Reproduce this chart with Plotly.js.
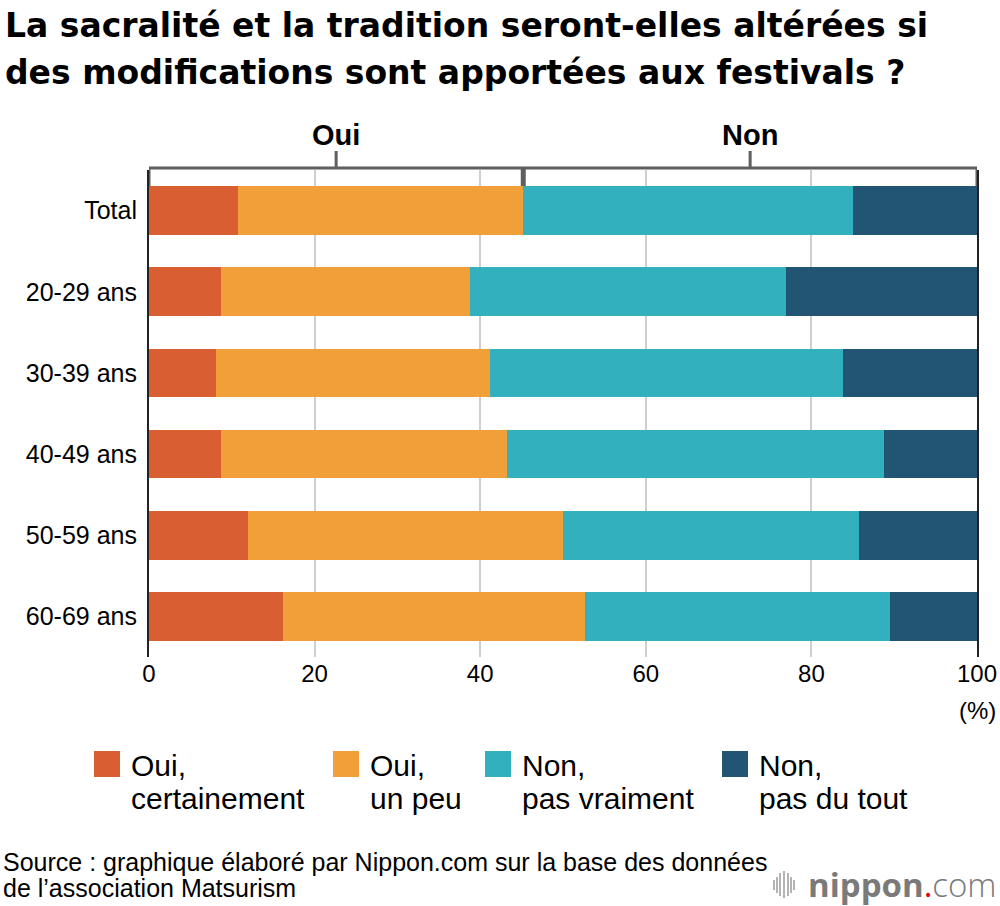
<!DOCTYPE html>
<html>
<head>
<meta charset="utf-8">
<script src="https://cdn.plot.ly/plotly-3.0.1.min.js"></script>
<style>
  html, body { margin: 0; padding: 0; background: #fff; }
  #chart { width: 1000px; height: 906px; }
</style>
</head>
<body>
<div id="chart"></div>
<script>
// ---- Data ----
const categories = ['Total', '20-29 ans', '30-39 ans', '40-49 ans', '50-59 ans', '60-69 ans'];
const ouiCertainement = [10.8, 8.7, 8.1, 8.7, 11.9, 16.2];
const ouiUnPeu        = [34.4, 30.1, 33.1, 34.5, 38.1, 36.4];
const nonPasVraiment  = [39.8, 38.1, 42.6, 45.6, 35.7, 36.9];
const nonPasDuTout    = [15.0, 23.1, 16.2, 11.2, 14.3, 10.5];
const seriesNames = ['Oui,<br>certainement', 'Oui,<br>un peu', 'Non,<br>pas vraiment', 'Non,<br>pas du tout'];
const legendLine1 = ['Oui,', 'Oui,', 'Non,', 'Non,'];
const legendLine2 = ['certainement', 'un peu', 'pas vraiment', 'pas du tout'];
const groupLabels = ['Oui', 'Non'];
const xTicks = [0, 20, 40, 60, 80, 100];

// ---- Styles ----
const colors = ['#D95F32', '#F19F38', '#33B0BE', '#225473'];
const FONT = '"Liberation Sans", Arial, Helvetica, sans-serif';
const TITLE_FONT = '"DejaVu Sans", "Liberation Sans", Arial, sans-serif';
const seriesValues = [ouiCertainement, ouiUnPeu, nonPasVraiment, nonPasDuTout];

const traces = seriesValues.map((vals, i) => ({
  type: 'bar',
  orientation: 'h',
  name: seriesNames[i],
  y: categories,
  x: vals,
  marker: { color: colors[i], line: { width: 0 } },
  showlegend: false,
  hoverinfo: 'x+y+name'
}));

// plot area in pixels: left 149, right 977, top 170, bottom 657
const plotTop = 170, plotBottom = 657, plotH = plotBottom - plotTop;
const plotLeft = 149, plotW = 828;
const py = (p) => (plotBottom - p) / plotH;   // pixel y -> paper y
const px = (p) => (p - plotLeft) / plotW;     // pixel x -> paper x

// Bracket from the Total row
const ouiTotal = ouiCertainement[0] + ouiUnPeu[0];
const bracketColor = '#5f5f5f';
const shapes = [];
const yLine = py(168), yEnd = py(186), yTick = py(151);
shapes.push({ type: 'line', xref: 'x', yref: 'paper', x0: 0, x1: 100, y0: yLine, y1: yLine, line: { color: bracketColor, width: 3 } });
shapes.push({ type: 'line', xref: 'x', yref: 'paper', x0: 0, x1: 0, y0: yLine, y1: yEnd, line: { color: bracketColor, width: 3 } });
shapes.push({ type: 'line', xref: 'x', yref: 'paper', x0: 100, x1: 100, y0: yLine, y1: yEnd, line: { color: bracketColor, width: 3 } });
shapes.push({ type: 'line', xref: 'x', yref: 'paper', x0: ouiTotal, x1: ouiTotal, y0: yLine, y1: yEnd, line: { color: bracketColor, width: 5 } });
shapes.push({ type: 'line', xref: 'x', yref: 'paper', x0: ouiTotal / 2, x1: ouiTotal / 2, y0: yLine, y1: yTick, line: { color: bracketColor, width: 3 } });
shapes.push({ type: 'line', xref: 'x', yref: 'paper', x0: (ouiTotal + 100) / 2, x1: (ouiTotal + 100) / 2, y0: yLine, y1: yTick, line: { color: bracketColor, width: 3 } });

const annotations = [];
// Title (two lines)
annotations.push({ xref: 'paper', yref: 'paper', x: px(3), y: py(25), xanchor: 'left', yanchor: 'middle', showarrow: false,
  text: '<b>La sacralité et la tradition seront-elles altérées si</b>', font: { family: TITLE_FONT, size: 33, color: '#000' } });
annotations.push({ xref: 'paper', yref: 'paper', x: px(3), y: py(72), xanchor: 'left', yanchor: 'middle', showarrow: false,
  text: '<b>des modifications sont apportées aux festivals ?</b>', font: { family: TITLE_FONT, size: 33, color: '#000' } });

// Oui / Non group labels
annotations.push({ xref: 'x', yref: 'paper', x: ouiTotal / 2, y: py(135), xanchor: 'center', yanchor: 'middle', showarrow: false,
  text: '<b>' + groupLabels[0] + '</b>', font: { family: FONT, size: 29, color: '#000' } });
annotations.push({ xref: 'x', yref: 'paper', x: (ouiTotal + 100) / 2, y: py(135), xanchor: 'center', yanchor: 'middle', showarrow: false,
  text: '<b>' + groupLabels[1] + '</b>', font: { family: FONT, size: 29, color: '#000' } });

// (%) unit
annotations.push({ xref: 'x', yref: 'paper', x: 100, y: py(710), xanchor: 'center', yanchor: 'middle', showarrow: false,
  text: '(%)', font: { family: FONT, size: 24, color: '#000' } });

// Custom legend
const legendSquareX = [94, 333, 485, 722];
legendSquareX.forEach((sx, i) => {
  shapes.push({ type: 'rect', xref: 'paper', yref: 'paper', x0: px(sx), x1: px(sx + 26), y0: py(751), y1: py(777),
    fillcolor: colors[i], line: { width: 0 } });
  annotations.push({ xref: 'paper', yref: 'paper', x: px(sx + 35), y: py(765), xanchor: 'left', yanchor: 'middle', showarrow: false,
    text: legendLine1[i], font: { family: FONT, size: 30, color: '#000' } });
  annotations.push({ xref: 'paper', yref: 'paper', x: px(sx + 35), y: py(798), xanchor: 'left', yanchor: 'middle', showarrow: false,
    text: legendLine2[i], font: { family: FONT, size: 30, color: '#000' } });
});

// Source
annotations.push({ xref: 'paper', yref: 'paper', x: px(1), y: py(862), xanchor: 'left', yanchor: 'middle', showarrow: false,
  text: 'Source : graphique élaboré par Nippon.com sur la base des données', font: { family: FONT, size: 25, color: '#000' } });
annotations.push({ xref: 'paper', yref: 'paper', x: px(1), y: py(888), xanchor: 'left', yanchor: 'middle', showarrow: false,
  text: 'de l’association Matsurism', font: { family: FONT, size: 25, color: '#000' } });

// nippon.com logo
annotations.push({ xref: 'paper', yref: 'paper', x: px(999), y: py(884), xanchor: 'right', yanchor: 'middle', showarrow: false,
  text: '<b>nippon</b><span style="color:#E60012">.</span><span style="font-weight:300">com</span>',
  font: { family: '"Open Sans", "DejaVu Sans", sans-serif', size: 33, color: '#7a7a7a' } });
const iconBars = [[774, 880, 890], [777, 877, 893], [780, 873, 896], [784, 871, 898], [788, 873, 896], [791, 877, 893], [794, 880, 890]];
iconBars.forEach(b => {
  shapes.push({ type: 'line', xref: 'paper', yref: 'paper', x0: px(b[0]), x1: px(b[0]), y0: py(b[1]), y1: py(b[2]),
    line: { color: '#9a9a9a', width: 1.5 } });
});

const layout = {
  width: 1000,
  height: 906,
  paper_bgcolor: '#fff',
  plot_bgcolor: '#fff',
  margin: { l: 149, r: 23, t: 170, b: 249, pad: 0 },
  barmode: 'stack',
  bargap: 0.4,
  showlegend: false,
  font: { family: FONT, color: '#000' },
  xaxis: {
    range: [0, 100],
    tickvals: xTicks,
    ticktext: xTicks.map(String),
    showgrid: true,
    gridcolor: '#cfcfcf',
    gridwidth: 2,
    zeroline: false,
    showline: false,
    ticks: '',
    tickfont: { family: FONT, size: 24, color: '#000' },
    fixedrange: true
  },
  yaxis: {
    autorange: 'reversed',
    showline: true,
    mirror: true,
    linecolor: '#222',
    linewidth: 2,
    showgrid: false,
    zeroline: false,
    ticks: '',
    ticklabelstandoff: 5,
    tickfont: { family: FONT, size: 25, color: '#000' },
    fixedrange: true
  },
  shapes: shapes,
  annotations: annotations
};

Plotly.newPlot('chart', traces, layout, { displayModeBar: false, staticPlot: true });
</script>
</body>
</html>
